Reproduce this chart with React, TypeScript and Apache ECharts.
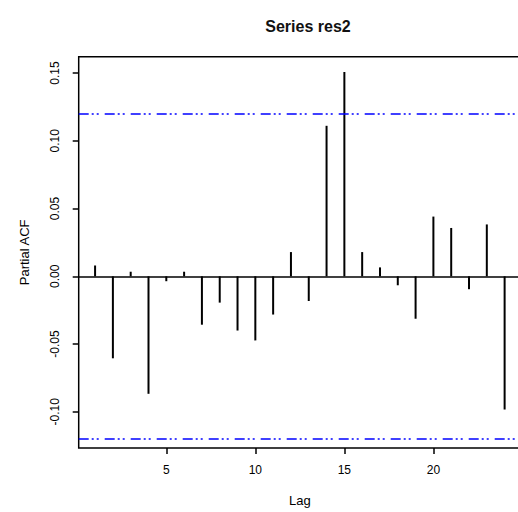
import React, { useEffect, useRef } from "react";
import * as echarts from "echarts";

const lags = [1, 2, 3, 4, 5, 6, 7, 8, 9, 10, 11, 12, 13, 14, 15, 16, 17, 18, 19, 20, 21, 22, 23, 24];
const pacf = [
  0.008, -0.0605, 0.0034, -0.0867, -0.0036, 0.0034, -0.0357, -0.0194, -0.04, -0.0473, -0.0282, 0.0179,
  -0.0182, 0.1111, 0.1508, 0.0179, 0.0066, -0.0066, -0.0313, 0.0441, 0.0357, -0.0095, 0.0383, -0.0983,
];
const ciLevel = 0.1166;
const xTicks = [5, 10, 15, 20];
const yTicks = [-0.1, -0.05, 0, 0.05, 0.1, 0.15];
const xLimits = [0.08, 24.92];
const yLimits = [-0.1267, 0.1621];

const FONT = "Liberation Sans, Arial, sans-serif";

export default function App() {
  const ref = useRef<HTMLDivElement>(null);
  useEffect(() => {
    if (!ref.current) return;
    const chart = echarts.init(ref.current, null, { renderer: "svg" });
    const data = lags.map((l, i) => [l, pacf[i]]);
    chart.setOption({
      animation: false,
      backgroundColor: "#ffffff",
      title: {
        text: "Series res2",
        left: 303,
        textAlign: "center",
        top: 13,
        textStyle: { fontFamily: FONT, fontSize: 16, fontWeight: "bold", color: "#111" },
      },
      grid: {
        left: 78.7,
        top: 56.7,
        bottom: 58.7,
        right: 1,
        show: true,
        borderColor: "#000",
        borderWidth: 1.5,
        backgroundColor: "transparent",
      },
      xAxis: {
        type: "value",
        min: xLimits[0],
        max: xLimits[1],
        name: "Lag",
        nameLocation: "middle",
        nameGap: 46,
        nameTextStyle: { fontFamily: FONT, fontSize: 13, color: "#000" },
        axisLine: { show: false, onZero: false },
        splitLine: { show: false },
        axisTick: {
          show: true,
          length: 6,
          customValues: xTicks,
          lineStyle: { color: "#000", width: 1.5 },
        },
        axisLabel: {
          customValues: xTicks,
          margin: 16,
          fontFamily: FONT,
          fontSize: 12,
          color: "#000",
        },
      },
      yAxis: {
        type: "value",
        min: yLimits[0],
        max: yLimits[1],
        name: "Partial ACF",
        nameLocation: "middle",
        nameGap: 48,
        nameTextStyle: { fontFamily: FONT, fontSize: 13, color: "#000" },
        axisLine: { show: false, onZero: false },
        splitLine: { show: false },
        axisTick: {
          show: true,
          length: 6,
          customValues: yTicks,
          lineStyle: { color: "#000", width: 1.5 },
        },
        axisLabel: {
          customValues: yTicks,
          rotate: 90,
          margin: 18,
          fontFamily: FONT,
          fontSize: 12,
          color: "#000",
          formatter: (v: number) => v.toFixed(2),
        },
      },
      series: [
        {
          type: "custom",
          data,
          encode: { x: 0, y: 1 },
          renderItem: (params: any, api: any) => {
            const x = api.value(0);
            const y = api.value(1);
            const p0 = api.coord([x, 0]);
            const p1 = api.coord([x, y]);
            return {
              type: "line",
              shape: { x1: p0[0], y1: p0[1], x2: p1[0], y2: p1[1] },
              style: { stroke: "#000", lineWidth: 2 },
            };
          },
          z: 3,
        },
        {
          type: "line",
          data: [],
          silent: true,
          markLine: {
            silent: true,
            symbol: "none",
            label: { show: false },
            data: [
              { yAxis: ciLevel, lineStyle: { color: "#0000ff", width: 1.5, type: [10, 3, 2, 3, 2, 6] } },
              { yAxis: -ciLevel, lineStyle: { color: "#0000ff", width: 1.5, type: [10, 3, 2, 3, 2, 6] } },
              { yAxis: 0, lineStyle: { color: "#000", width: 1.5, type: "solid" } },
            ],
          },
        },
      ],
    });
    return () => chart.dispose();
  }, []);
  return (
    <div style={{ position: "absolute", left: 0, top: 0, width: 518, height: 512, overflow: "hidden" }}>
      <div ref={ref} style={{ width: 522, height: 512 }} />
    </div>
  );
}
